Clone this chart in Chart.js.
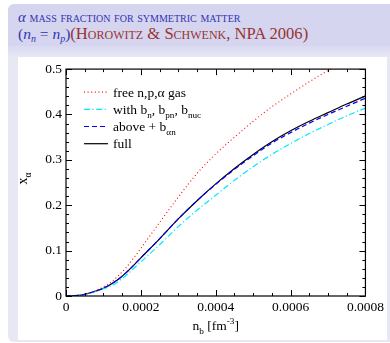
<!DOCTYPE html>
<html>
<head>
<meta charset="utf-8">
<script src="https://cdn.jsdelivr.net/npm/chart.js@4"></script>
<style>
  html, body { margin:0; padding:0; background:#ffffff; width:390px; height:343px; overflow:hidden; }
  #block { position:absolute; left:8px; top:4px; width:400px; height:338px; border-radius:6px; background:#e8e8f5; overflow:hidden; }
  #band { position:absolute; left:0; top:0; width:100%; height:42px; background:#d5d5ef; }
  #fade { position:absolute; left:0; top:42px; width:100%; height:12px; background:linear-gradient(#d9d9f1, #e8e8f5); }
  #title { position:absolute; left:10px; top:5px; font-family:"Liberation Serif", serif; white-space:nowrap; }
  #t1 { color:#3333b3; font-size:14.8px; line-height:16px; }
  #t1 .sc { font-variant:small-caps; }
  #t2 { font-size:15.5px; line-height:18px; margin-top:0px; }
  #t2 .m { color:#3333b3; }
  #t2 .r { color:#993333; font-variant:small-caps; font-size:16.6px; }
  #t2 sub { font-size:10px; vertical-align:-3px; }
  #panel { position:absolute; left:18px; top:57px; width:369px; height:283px; background:#ffffff; }
</style>
</head>
<body>
<div id="block">
  <div id="band"></div>
  <div id="fade"></div>
  <div id="title">
    <div id="t1"><i>α</i> <span class="sc">mass fraction for symmetric matter</span></div>
    <div id="t2"><span class="m">(<i>n</i><sub><i>n</i></sub> = <i>n</i><sub><i>p</i></sub>)</span><span class="r">(Horowitz &amp; Schwenk, NPA 2006)</span></div>
  </div>
</div>
<div id="panel"><canvas id="c" width="369" height="283"></canvas></div>
<script>
// ---- data ----
const nb = [0, 0.00002, 0.00004, 0.00006, 0.00008, 0.0001, 0.00012, 0.00014, 0.00016, 0.00018, 0.0002,
            0.00025, 0.0003, 0.00035, 0.0004, 0.00045, 0.0005, 0.00055, 0.0006, 0.00065, 0.0007, 0.00075, 0.0008];
const xFree  = [0, 0.0005, 0.002, 0.006, 0.012, 0.02, 0.03, 0.045, 0.062, 0.083, 0.105,
                0.162, 0.218, 0.27, 0.313, 0.35, 0.385, 0.417, 0.445, 0.472, 0.497, 0.52, 0.541];
const xWith  = [0, 0.0005, 0.002, 0.005, 0.01, 0.016, 0.022, 0.032, 0.045, 0.06, 0.075,
                0.113, 0.153, 0.189, 0.222, 0.255, 0.285, 0.312, 0.336, 0.358, 0.378, 0.397, 0.414];
const xAbove = [0, 0.0005, 0.002, 0.006, 0.011, 0.017, 0.026, 0.037, 0.051, 0.067, 0.084,
                0.126, 0.17, 0.21, 0.246, 0.279, 0.309, 0.337, 0.36, 0.381, 0.4, 0.418, 0.436];
const xFull  = [0, 0.0005, 0.002, 0.006, 0.011, 0.017, 0.026, 0.037, 0.051, 0.067, 0.084,
                0.126, 0.17, 0.21, 0.247, 0.281, 0.312, 0.34, 0.364, 0.385, 0.404, 0.423, 0.441];
const xTickLabels = ['0', '0.0002', '0.0004', '0.0006', '0.0008'];
const yTickLabels = ['0', '0.1', '0.2', '0.3', '0.4', '0.5'];
const legendTexts = [
  [['free n,p,α gas','n']],
  [['with b','n'],['n','sub'],[', b','n'],['pn','sub'],[', b','n'],['nuc','sub']],
  [['above + b','n'],['αn','sub']],
  [['full','n']]
];

const FONT = '"Liberation Serif", "Times New Roman", serif';
const pts = arr => nb.map((x, i) => ({x: x, y: arr[i]}));

function drawRich(ctx, segs, x, y, size) {
  for (const [t, kind] of segs) {
    if (kind === 'sub') {
      ctx.font = (size * 0.68) + 'px ' + FONT;
      ctx.fillText(t, x, y + size * 0.3);
    } else if (kind === 'sup') {
      ctx.font = (size * 0.68) + 'px ' + FONT;
      ctx.fillText(t, x, y - size * 0.42);
    } else {
      ctx.font = size + 'px ' + FONT;
      ctx.fillText(t, x, y);
    }
    x += ctx.measureText(t).width;
  }
  return x;
}
function richWidth(ctx, segs, size) {
  let w = 0;
  for (const [t, kind] of segs) {
    ctx.font = (kind === 'n' ? size : size * 0.68) + 'px ' + FONT;
    w += ctx.measureText(t).width;
  }
  return w;
}

const isMult = (v, s) => Math.abs(v / s - Math.round(v / s)) < 1e-6;

const framePlugin = {
  id: 'frame',
  afterDatasetsDraw(chart) {
    const ctx = chart.ctx, a = chart.chartArea;
    const xs = chart.scales.x, ys = chart.scales.y;
    ctx.save();
    ctx.strokeStyle = '#000';
    ctx.lineWidth = 1.2;
    ctx.strokeRect(a.left, a.top, a.right - a.left, a.bottom - a.top);
    ctx.lineWidth = 1;
    ctx.beginPath();
    xs.ticks.forEach(t => {
      const p = Math.round(xs.getPixelForValue(t.value)) + 0.5;
      const L = isMult(t.value, 0.0002) ? 6 : 3;
      ctx.moveTo(p, a.bottom); ctx.lineTo(p, a.bottom - L);
      ctx.moveTo(p, a.top); ctx.lineTo(p, a.top + L);
    });
    ys.ticks.forEach(t => {
      const p = Math.round(ys.getPixelForValue(t.value)) + 0.5;
      const L = isMult(t.value, 0.1) ? 6 : 3;
      ctx.moveTo(a.left, p); ctx.lineTo(a.left + L, p);
      ctx.moveTo(a.right, p); ctx.lineTo(a.right - L, p);
    });
    ctx.stroke();

    // legend
    const ds = chart.data.datasets;
    const order = [1, 2, 0, 3]; // free, with, above, full
    const lx = a.left + 18, ly0 = a.top + 23, dy = 17.2;
    order.forEach((di, k) => {
      const d = ds[di];
      const y = ly0 + k * dy;
      ctx.save();
      ctx.strokeStyle = d.borderColor;
      ctx.lineWidth = d.borderWidth;
      ctx.setLineDash(d.borderDash || []);
      ctx.beginPath();
      ctx.moveTo(lx, y); ctx.lineTo(lx + 24, y);
      ctx.stroke();
      ctx.restore();
      ctx.fillStyle = '#000';
      ctx.textBaseline = 'alphabetic';
      drawRich(ctx, legendTexts[k], lx + 29, y + 4.5, 13.5);
    });

    // axis titles
    ctx.fillStyle = '#000';
    const xt = [['n','n'],['b','sub'],[' [fm','n'],['-3','sup'],[']','n']];
    const w = richWidth(ctx, xt, 13.5);
    drawRich(ctx, xt, (a.left + a.right) / 2 - w / 2, a.bottom + 34, 13.5);
    const yt = [['x','n'],['α','sub']];
    ctx.save();
    ctx.translate(a.left - 39, (a.top + a.bottom) / 2 - 4);
    ctx.rotate(-Math.PI / 2);
    const w2 = richWidth(ctx, yt, 14);
    drawRich(ctx, yt, -w2 / 2, 0, 14);
    ctx.restore();
    ctx.restore();
  }
};

new Chart(document.getElementById('c'), {
  type: 'line',
  data: {
    datasets: [
      { label: 'above + b_αn', data: pts(xAbove), borderColor: '#0000ff', borderWidth: 1.2, borderDash: [5, 3] },
      { label: 'free n,p,α gas', data: pts(xFree), borderColor: '#ff0000', borderWidth: 1.1, borderDash: [1, 2.6] },
      { label: 'with b_n, b_pn, b_nuc', data: pts(xWith), borderColor: '#00e8ff', borderWidth: 1.2, borderDash: [6, 2.5, 1.2, 2.5] },
      { label: 'full', data: pts(xFull), borderColor: '#000000', borderWidth: 1.2 }
    ]
  },
  options: {
    responsive: false,
    animation: false,
    parsing: true,
    elements: { point: { radius: 0 }, line: { cubicInterpolationMode: 'monotone', fill: false } },
    layout: { padding: { left: 0, right: 21, top: 6, bottom: 0 } },
    plugins: { legend: { display: false }, tooltip: { enabled: false } },
    scales: {
      x: {
        type: 'linear', min: 0, max: 0.0008,
        grid: { drawOnChartArea: false, drawTicks: false },
        border: { display: false },
        ticks: {
          stepSize: 0.00005, autoSkip: false, maxRotation: 0, padding: 3,
          color: '#000', font: { family: FONT, size: 13.5 },
          callback: v => isMult(v, 0.0002) ? xTickLabels[Math.round(v / 0.0002)] : ''
        },
        afterFit: s => { s.height = 44; }
      },
      y: {
        type: 'linear', min: 0, max: 0.5,
        grid: { drawOnChartArea: false, drawTicks: false },
        border: { display: false },
        ticks: {
          stepSize: 0.02, autoSkip: false, padding: 4,
          color: '#000', font: { family: FONT, size: 13.5 },
          callback: v => isMult(v, 0.1) ? yTickLabels[Math.round(v / 0.1)] : ''
        },
        afterFit: s => { s.width = 48; }
      }
    }
  },
  plugins: [framePlugin]
});
</script>
</body>
</html>
